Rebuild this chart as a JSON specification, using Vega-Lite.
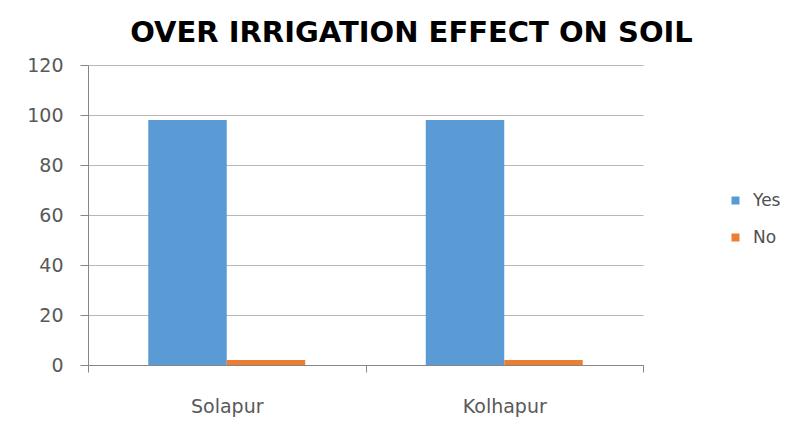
{
  "$schema": "https://vega.github.io/schema/vega-lite/v6.json",
  "width": 555,
  "height": 300,
  "autosize": "none",
  "padding": {"left": 88, "top": 65, "right": 158, "bottom": 61},
  "background": "white",
  "title": {
    "text": "OVER IRRIGATION EFFECT ON SOIL",
    "font": "DejaVu Sans",
    "fontSize": 29,
    "fontWeight": "bold",
    "color": "#000000",
    "anchor": "middle",
    "frame": "group",
    "dx": 46,
    "offset": 8
  },
  "data": {
    "values": [
      {"district": "Solapur", "response": "Yes", "value": 98},
      {"district": "Solapur", "response": "No", "value": 2},
      {"district": "Kolhapur", "response": "Yes", "value": 98},
      {"district": "Kolhapur", "response": "No", "value": 2}
    ]
  },
  "mark": {"type": "bar"},
  "encoding": {
    "x": {
      "field": "district",
      "type": "nominal",
      "sort": ["Solapur", "Kolhapur"],
      "scale": {"paddingInner": 0, "paddingOuter": 0},
      "axis": {
        "title": null,
        "labelAngle": 0,
        "tickBand": "extent",
        "domainColor": "#868686",
        "tickColor": "#868686",
        "tickSize": 7,
        "labelFont": "DejaVu Sans",
        "labelFontSize": 19,
        "labelColor": "#595959",
        "labelPadding": 25,
        "grid": false
      }
    },
    "xOffset": {
      "field": "response",
      "type": "nominal",
      "sort": ["Yes", "No"],
      "scale": {"paddingInner": 0, "paddingOuter": 0.768}
    },
    "y": {
      "field": "value",
      "type": "quantitative",
      "scale": {"domain": [0, 120]},
      "axis": {
        "title": null,
        "values": [0, 20, 40, 60, 80, 100, 120],
        "domainColor": "#868686",
        "tickColor": "#868686",
        "tickSize": 8,
        "gridColor": "#b7b7b7",
        "labelFont": "DejaVu Sans",
        "labelFontSize": 19,
        "labelColor": "#595959",
        "labelPadding": 17
      }
    },
    "color": {
      "field": "response",
      "type": "nominal",
      "sort": ["Yes", "No"],
      "scale": {"domain": ["Yes", "No"], "range": ["#5B9BD5", "#ED7D31"]},
      "legend": {
        "title": null,
        "orient": "none",
        "legendX": 639,
        "legendY": 127,
        "symbolType": "square",
        "symbolSize": 64,
        "symbolStrokeWidth": 0,
        "rowPadding": 19,
        "labelFont": "DejaVu Sans",
        "labelFontSize": 17,
        "labelColor": "#505050",
        "labelOffset": 9
      }
    }
  },
  "config": {"view": {"stroke": null}}
}
